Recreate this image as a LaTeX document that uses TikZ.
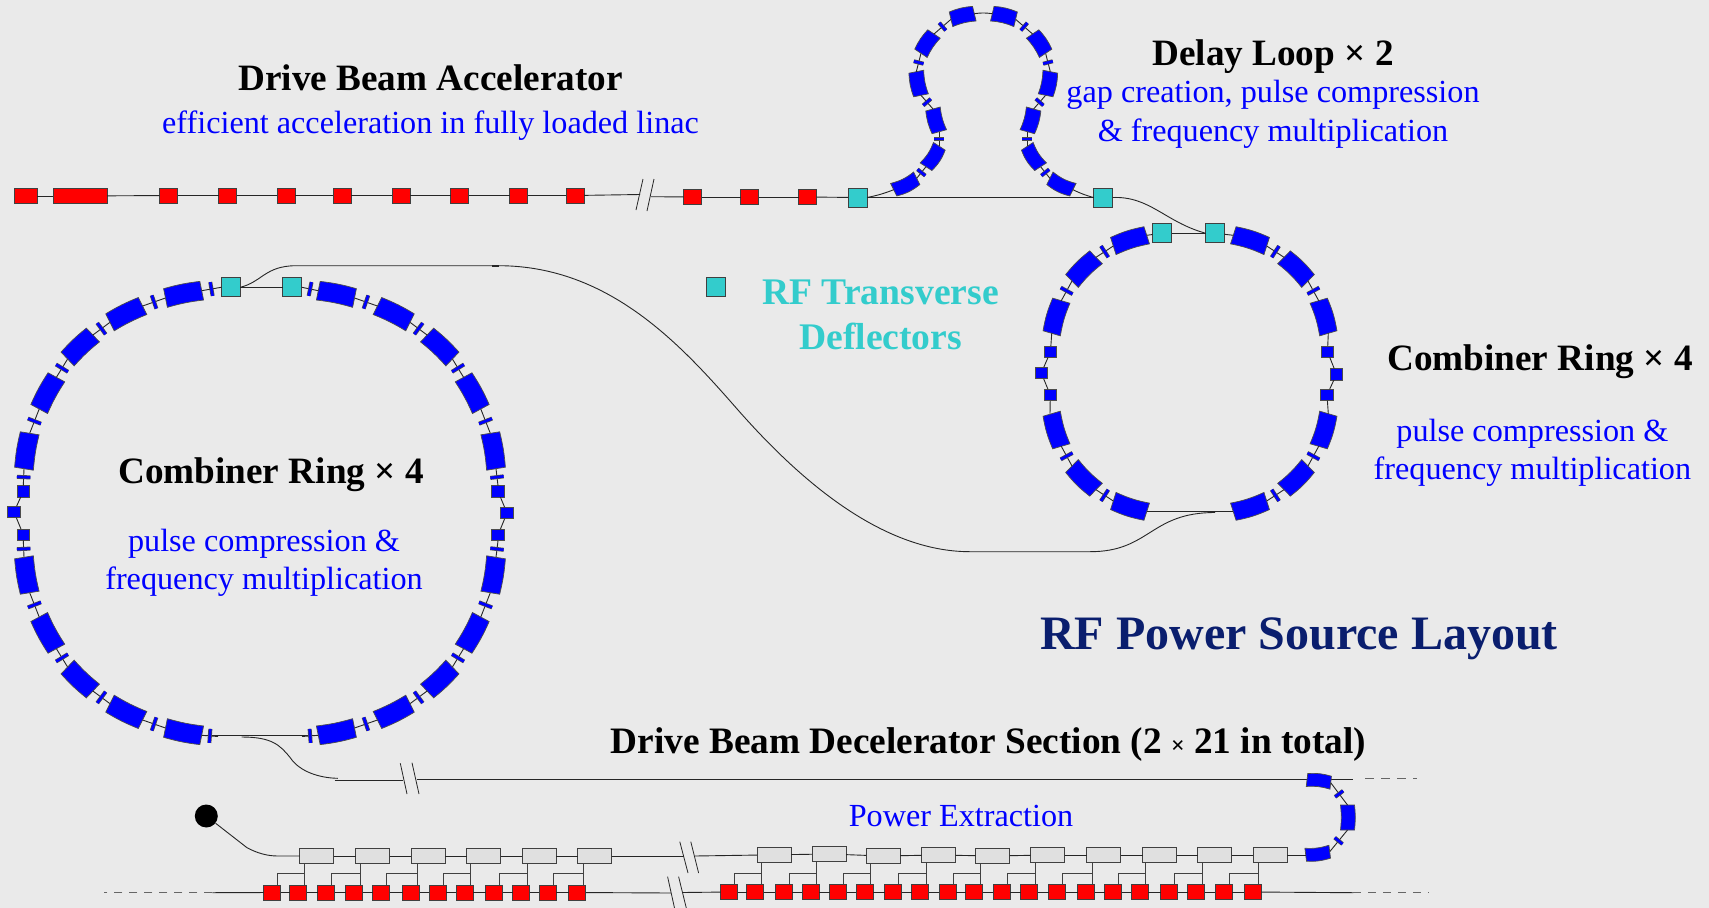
\documentclass[tikz,border=0pt]{standalone}
\usepackage{fontspec}
\setmainfont{Liberation Serif}
\usepackage{tikz}
\usetikzlibrary{calc,positioning}
\usepackage{xcolor}
\definecolor{rfbg}{RGB}{234,234,234}
\definecolor{rfred}{RGB}{255,0,0}
\definecolor{rfblue}{RGB}{0,0,255}
\definecolor{rfcyan}{RGB}{51,204,204}
\definecolor{rfgrey}{RGB}{224,224,224}
\definecolor{rfnavy}{RGB}{10,30,110}
\tikzstyle{beamline} = [black!85, line width=.9pt]
\tikzstyle{stemline} = [black!75, line width=.9pt]
\tikzstyle{breakline} = [black!85, line width=.8pt]
\tikzstyle{dipolebox} = [draw=black!70, fill=rfblue, line width=.7pt]
\tikzstyle{quadline} = [draw=black!70, double=rfblue, line width=.7pt, double distance=2.6pt]
\tikzstyle{redbox} = [rectangle, draw=black!75, fill=rfred, line width=.9pt, inner sep=0pt, outer sep=0pt, minimum width=18pt, minimum height=15pt]
\tikzstyle{greybox} = [rectangle, draw=black!75, fill=rfgrey, line width=.9pt, inner sep=0pt, outer sep=0pt, minimum width=34pt, minimum height=15pt]
\tikzstyle{cavity} = [rectangle, draw=black!75, fill=rfcyan, line width=.9pt, inner sep=0pt, outer sep=0pt, minimum size=19pt]
\tikzstyle{bluebox} = [rectangle, draw=black!70, fill=rfblue, line width=.7pt, inner sep=0pt, outer sep=0pt, minimum width=12.5pt, minimum height=11.5pt]
\tikzstyle{headtext} = [font=\bfseries\fontsize{37.2}{42}\selectfont, black, inner sep=0pt]
\tikzstyle{subtext} = [font=\fontsize{32.2}{38.5}\selectfont, rfblue, align=center, inner sep=0pt]
% magnets: band between two mid points, kick across the gap of two points
\newcommand{\dipole}[4]{\draw[dipolebox] ($#1!#3!90:#2$) to[bend left=#4] ($#2!#3!-90:#1$) -- ($#2!#3!90:#1$) to[bend right=#4] ($#1!#3!-90:#2$) -- cycle;}
\newcommand{\quadmark}[3]{\draw[beamline] #1 -- #2; \draw[quadline] ($#1!.5!#2!#3!90:#2$) -- ($#1!.5!#2!#3!-90:#2$);}
% centre x, centre y, sign x, sign y, half width, bend, half length, points
\newcommand{\magchain}[8]{%
  \foreach \xn/\yn [count=\i, remember=\xn as \xp (initially 0), remember=\yn as \yp (initially 0)] in {#8}{%
    \ifnum\i>1
      \pgfmathsetmacro{\ax}{#1-(#3)*\xp}\pgfmathsetmacro{\ay}{-#2+(#4)*\yp}%
      \pgfmathsetmacro{\bx}{#1-(#3)*\xn}\pgfmathsetmacro{\by}{-#2+(#4)*\yn}%
      \pgfmathsetmacro{\bnd}{(#6)*(#3)*(#4)}%
      \ifodd\i \quadmark{(\ax,\ay)}{(\bx,\by)}{#7}\else \dipole{(\ax,\ay)}{(\bx,\by)}{#5}{\bnd}\fi
    \fi}}

\begin{document}
\begin{tikzpicture}[x=1pt,y=1pt]
\path[use as bounding box, fill=rfbg] (0,0) rectangle (1709,-908);

% texts
\node (accel) [headtext] at (430.5,-78) {Drive Beam Accelerator};
\node (accelsub) [subtext, below of=accel, node distance=48pt] {efficient acceleration in fully loaded linac};
\node (delay) [headtext] at (1273,-56.5) {Delay Loop × 2};
\node (delaysub) [subtext, below of=delay, node distance=58pt] {gap creation, pulse compression\\\& frequency multiplication};
\node (rfdef) [font=\bfseries\fontsize{37.6}{45}\selectfont, rfcyan, align=center, inner sep=0pt] at (880.6,-315) {RF Transverse\\Deflectors};
\node (ringr) [headtext] at (1540,-362) {Combiner Ring × 4};
\node (ringrsub) [subtext, below of=ringr, node distance=91pt, xshift=-7.6pt] {pulse compression \&\\frequency multiplication};
\node (ringl) [headtext] at (271,-474.5) {Combiner Ring × 4};
\node (ringlsub) [subtext, below of=ringl, node distance=88.5pt, xshift=-7pt] {pulse compression \&\\frequency multiplication};
\node (layout) [font=\bfseries\fontsize{48}{52}\selectfont, rfnavy, inner sep=0pt] at (1299,-638.7) {RF Power Source Layout};
\node (decel) [font=\bfseries\fontsize{37.3}{42}\selectfont, black, inner sep=0pt] at (988.5,-744.3) {Drive Beam Decelerator Section (2 {\fontsize{24}{24}\selectfont ×} 21 in total)};
\node (power) [subtext] at (961,-816) {Power Extraction};

% drive beam accelerator
\node (dr1) [redbox, minimum width=23pt] at (25.5,-196) {};
\node (dr2) [redbox, minimum width=54pt] at (80,-196) {};
\foreach \n/\x in {3/168.5,4/227.5,5/286.3,6/342.3,7/401,8/459.5,9/518.5,10/575}
  \node (dr\n) [redbox] at (\x,-195.5) {};
\foreach \n [remember=\n as \p (initially 1)] in {2,...,10}
  \draw[beamline] (dr\p) -- (dr\n);
\coordinate (brka) at (640,-194.5);
\coordinate (brkb) at (651,-196.7);
\draw[beamline] (dr10) -- (brka);
\draw[breakline] (636,-210) -- (643,-179);
\draw[breakline] (647,-211) -- (654,-179);
\node (dr11) [redbox] at (692.5,-197) {};
\node (dr12) [redbox] at (749.5,-197) {};
\node (dr13) [redbox] at (807.5,-197) {};
\node (defa) [cavity] at (857.5,-197.5) {};
\node (defb) [cavity] at (1103,-197.5) {};
\draw[beamline] (brkb) -- (dr11);
\draw[beamline] (dr11) -- (dr12);
\draw[beamline] (dr12) -- (dr13);
\draw[beamline] (dr13) -- (defa);
\draw[beamline] (defa) -- (defb);

% delay loop
\foreach \s in {1,-1}{
  \magchain{983.3}{200}{\s}{1}{7pt}{-12}{5pt}{89.6/10.3,66.6/21.7,57.3/33.3,44/53.7,44/68.3}
  \magchain{983.3}{200}{\s}{1}{7.5pt}{9}{5pt}{44/68.3,50.3/91,62.3/104.7,67/128.3,62.3/146.7,49.3/166,32.3/180.7,9/186.3}
}
\coordinate (dlla) at (893.7,-189.7);
\coordinate (dllb) at (1072.9,-189.7);
\coordinate (dltopa) at (974.3,-13.7);
\coordinate (dltopb) at (992.3,-13.7);
\draw[beamline] (defa.east) to[bend right=5] (dlla);
\draw[beamline] (dllb) to[bend right=5] (defb.west);
\draw[beamline] (dltopa) to[bend left=8] (dltopb);

% right combiner ring
\foreach \sx/\sy in {1/1,-1/1,1/-1,-1/-1}
  \magchain{1190}{373.5}{\sx}{\sy}{9pt}{6.6}{6.7pt}{138.3/40.2,128.7/72.8,118/92.5,94/116.2,76.7/127.5,43.3/138.2}
\node (defc) [cavity] at (1162,-233.2) {};
\node (defd) [cavity] at (1215,-233.2) {};
\coordinate (rrtl) at (1146.7,-235.3);
\coordinate (rrtr) at (1233.3,-235.3);
\coordinate (rrbl) at (1146.7,-511.7);
\coordinate (rrbr) at (1233.3,-511.7);
\draw[beamline] (rrtl) -- (defc);
\draw[beamline] (defc) -- (defd);
\draw[beamline] (defd) -- (rrtr);
\draw[beamline] (rrbl) -- (rrbr);
\draw[beamline] (defb.east) .. controls (1150,-196) and (1165,-222) .. (defd.west);
\node (rbl1) [bluebox] at (1050.5,-351.7) {};
\node (rbl2) [bluebox] at (1041.3,-373) {};
\node (rbl3) [bluebox] at (1050.3,-395) {};
\node (rbr1) [bluebox] at (1327.5,-351.7) {};
\node (rbr2) [bluebox] at (1336.5,-374.3) {};
\node (rbr3) [bluebox] at (1327,-395) {};
\draw[beamline] (1051.7,-333.3) -- (rbl1);
\draw[beamline] (rbl1) -- (rbl2);
\draw[beamline] (rbl2) -- (rbl3);
\draw[beamline] (rbl3) -- (1050,-413.7);
\draw[beamline] (1328.3,-333.3) -- (rbr1);
\draw[beamline] (rbr1) -- (rbr2);
\draw[beamline] (rbr2) -- (rbr3);
\draw[beamline] (rbr3) -- (1328.3,-413.7);

% left combiner ring
\foreach \sx/\sy in {1/1,-1/1,1/-1,-1/-1}
  \magchain{260}{513}{\sx}{\sy}{9.5pt}{4.5}{7pt}{236/44.3,230.3/79.7,220.8/104,203.6/135.7,192.4/154,167.1/178,150/190.7,117.4/207,94.5/215,58.3/222.3}
\node (defe) [cavity] at (230.7,-287.3) {};
\node (deff) [cavity] at (292.4,-287.3) {};
\draw[beamline] (defe) -- (deff);
\quadmark{(201.7,-290.7)}{(221.2,-287.3)}{7pt}
\quadmark{(301.9,-287.3)}{(318.3,-290.7)}{7pt}
\coordinate (lrbl) at (201.7,-735.3);
\coordinate (lrbr) at (318.3,-735.3);
\draw[beamline] (lrbl) -- (lrbr);
\quadmark{(lrbl)}{(218,-736.5)}{7pt}
\quadmark{(302,-736.5)}{(lrbr)}{7pt}
\node (lbl1) [bluebox] at (23.3,-491.3) {};
\node (lbl2) [bluebox] at (14,-512) {};
\node (lbl3) [bluebox] at (23.3,-534.7) {};
\node (lbr1) [bluebox] at (498,-491.3) {};
\node (lbr2) [bluebox] at (507,-513) {};
\node (lbr3) [bluebox] at (498,-535) {};
\draw[beamline] (lbl1) -- (lbl2);
\draw[beamline] (lbl2) -- (lbl3);
\draw[beamline] (lbr1) -- (lbr2);
\draw[beamline] (lbr2) -- (lbr3);
\quadmark{(24,-468.7)}{(lbl1.north)}{6.7pt}
\quadmark{(lbl3.south)}{(24,-557.3)}{6.7pt}
\quadmark{(496,-468.7)}{(lbr1.north)}{6.7pt}
\quadmark{(lbr3.south)}{(496,-557.3)}{6.7pt}

% transfer lines
\coordinate (tla) at (295.6,-265.7);
\coordinate (tlb) at (499,-265.7);
\coordinate (tlc) at (738,-410);
\coordinate (tld) at (970,-551.7);
\coordinate (tle) at (1090,-551.7);
\draw[beamline] (defe.east) .. controls (262,-282) and (265,-266) .. (tla) -- (tlb) .. controls (610,-266) and (682,-346) .. (tlc) .. controls (797,-477) and (880,-551.7) .. (tld) -- (tle) .. controls (1150,-551.7) and (1150,-512.5) .. (1215,-512.5);
\draw[beamline, line width=2pt] (tlb) -- ++(-7,0);
\coordinate (lexa) at (241.6,-737);
\coordinate (lexb) at (290.5,-758);
\coordinate (lexc) at (337.8,-778.3);
\draw[beamline] (lexa) .. controls (272,-737) and (280,-745) .. (lexb) .. controls (300,-772) and (320,-778) .. (lexc);

% decelerator return line
\coordinate (decla) at (334.5,-780);
\coordinate (declb) at (402.5,-780);
\coordinate (declc) at (416.5,-779.5);
\coordinate (decld) at (1353,-779.5);
\coordinate (decle) at (1365,-778.7);
\coordinate (declf) at (1417,-778.7);
\draw[beamline] (decla) -- (declb);
\draw[beamline] (declc) -- (decld);
\draw[beamline, black!60, dash pattern=on 9pt off 7pt] (decle) -- (declf);
\draw[breakline] (400.3,-763.3) -- (407,-794);
\draw[breakline] (412,-762.7) -- (419,-794);
\dipole{(1307,-780)}{(1330.7,-782.7)}{6.5pt}{10}
\dipole{(1347.5,-805)}{(1347.5,-830)}{7pt}{6}
\dipole{(1329.7,-851.7)}{(1305.7,-854.7)}{6.5pt}{10}
\quadmark{(1330.7,-782.7)}{(1347.5,-805)}{5pt}
\quadmark{(1347.5,-830)}{(1329.7,-851.7)}{5pt}

% power extraction
\node (dot) [circle, fill=black, inner sep=0pt, minimum size=23pt] at (206.3,-816) {};
\foreach \n/\x in {1/316.8,2/372.5,3/428,4/483.7,5/539,6/594.7}
  \node (lg\n) [greybox] at (\x,-856) {};
\foreach \n/\x/\y in {1/774/854.8,2/829/854,3/883/856,4/938.7/855,5/992.7/856,6/1047.7/855,7/1103.8/855,8/1159.5/855,9/1214.8/855,10/1270.3/855}
  \node (rg\n) [greybox] at (\x,-\y) {};
\foreach \n/\x in {1/272,2/298,3/326.4,4/354.3,5/381.2,6/411,7/437.8,8/464.8,9/494,10/521.3,11/547.8,12/577.4}
  \node (lr\n) [redbox, minimum width=17pt] at (\x,-892.5) {};
\foreach \n/\x in {1/729,2/755.2,3/783.5,4/810.8,5/838.2,6/864.6,7/893,8/920.3,9/947.6,10/974,11/1001.9,12/1029.2,13/1057,14/1086.3,15/1113.2,16/1139.6,17/1169.3,18/1196.2,19/1223.6,20/1252.8}
  \node (rr\n) [redbox, minimum width=17pt] at (\x,-892) {};
\coordinate (gla) at (277.8,-856);
\draw[beamline] (dot) -- (247,-847.7) .. controls (257,-853) and (267,-856) .. (gla) -- (lg1);
\foreach \n [remember=\n as \p (initially 1)] in {2,...,6}
  \draw[beamline] (lg\p) -- (lg\n);
\foreach \n [remember=\n as \p (initially 1)] in {2,...,10}
  \draw[beamline] (rg\p) -- (rg\n);
\foreach \n [remember=\n as \p (initially 1)] in {2,...,12}
  \draw[beamline] (lr\p) -- (lr\n);
\foreach \n [remember=\n as \p (initially 1)] in {2,...,20}
  \draw[beamline] (rr\p) -- (rr\n);
\coordinate (gbra) at (684,-856);
\coordinate (gbrb) at (695,-856);
\draw[beamline] (lg6) -- (gbra);
\draw[beamline] (gbrb) -- (rg1);
\draw[beamline] (rg10) -- (1305.7,-855);
\draw[breakline] (679.8,-841.7) -- (688,-873);
\draw[breakline] (690.8,-841.7) -- (698.6,-873);
\coordinate (rbra) at (671,-893);
\coordinate (rbrb) at (682,-892.5);
\coordinate (rdsa) at (212.4,-892.7);
\coordinate (rdsb) at (103.5,-892.7);
\coordinate (rdsc) at (1353.3,-892.7);
\coordinate (rdsd) at (1429,-892.7);
\draw[beamline] (rdsa) -- (lr1);
\draw[beamline, black!60, dash pattern=on 8pt off 7pt] (rdsa) -- (rdsb);
\draw[beamline] (lr12) -- (rbra);
\draw[beamline] (rbrb) -- (rr1);
\draw[beamline] (rr20) -- (rdsc);
\draw[beamline, black!60, dash pattern=on 8pt off 7pt] (rdsc) -- (rdsd);
\draw[breakline] (667.6,-876.7) -- (674.5,-908);
\draw[breakline] (678.6,-876.7) -- (686.3,-908);
\foreach \g [evaluate=\g as \b using int(2*\g), evaluate=\g as \a using int(2*\g-1)] in {1,...,6}{
  \draw[stemline] ([xshift=6pt]lr\b.north) -- ([xshift=6pt]lr\b.north |- lg\g.south);
  \draw[stemline] ([xshift=5.5pt]lr\a.north) |- ([xshift=6pt,yshift=11.5pt]lr\b.north);
}
\foreach \g [evaluate=\g as \b using int(2*\g), evaluate=\g as \a using int(2*\g-1)] in {1,...,10}{
  \draw[stemline] ([xshift=6pt]rr\b.north) -- ([xshift=6pt]rr\b.north |- rg\g.south);
  \draw[stemline] ([xshift=5.5pt]rr\a.north) |- ([xshift=6pt,yshift=11.5pt]rr\b.north);
}

% legend box
\node (defkey) [cavity] at (716,-287) {};
\end{tikzpicture}
\end{document}
